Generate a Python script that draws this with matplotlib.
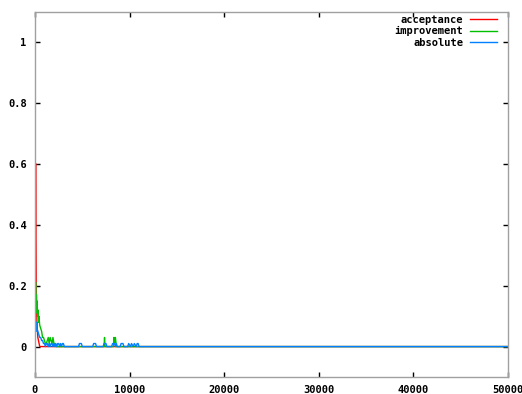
"""
Convergence rates (acceptance / improvement / absolute) over iterations,
drawn in the look of a gnuplot png terminal.
"""

import matplotlib
matplotlib.use("Agg")
import matplotlib.pyplot as plt

# ── Data ─────────────────────────────────────────────────────────────────────
acc_x = [100, 110, 130, 200, 300, 500, 50000]
acc_y = [0.60, 0.35, 0.20, 0.08, 0.03, 0.0, 0.0]

imp_x = [100, 110, 150, 200, 210, 300, 310, 400, 410, 500, 600, 700, 800, 900,
         1000, 1100, 1200, 1300, 1400, 1500, 1600, 1700, 1800, 1900, 2000, 2100,
         2200, 2400, 7300, 7350, 7400, 7450, 8300, 8350, 8400, 8500, 8600, 8650,
         50000]
imp_y = [0.21, 0.12, 0.17, 0.11, 0.15, 0.10, 0.12, 0.08, 0.10, 0.07, 0.06, 0.05,
         0.03, 0.03, 0.02, 0.01, 0.01, 0.02, 0.03, 0.01, 0.03, 0.02, 0.01,
         0.03, 0.01, 0.01, 0.0, 0.0, 0.0, 0.03, 0.0, 0.0, 0.0, 0.03, 0.01, 0.03,
         0.0, 0.0, 0.0]

abs_x = [100, 110, 200, 210, 300, 400, 500, 600, 700, 800, 900, 1000, 1100,
         1200, 1300, 1400, 1500, 1600, 1700, 1800, 1900, 2000, 2100, 2200, 2300,
         2400, 2500, 2600, 2700, 2800, 2900, 3000, 3100, 3200,
         4600, 4700, 4900, 5000, 6100, 6200, 6400, 6500, 7200, 7300, 7500, 7600,
         8100, 8200, 8400, 8500, 8600, 8700, 9000, 9100, 9300, 9400,
         9800, 9900, 10100, 10200, 10400, 10500, 10700, 10800, 10900, 11000,
         50000]
abs_y = [0.08, 0.05, 0.08, 0.06, 0.05, 0.04, 0.03, 0.03, 0.02, 0.02, 0.01,
         0.01, 0.0, 0.01, 0.01, 0.0, 0.01, 0.0, 0.01, 0.01, 0.0, 0.01, 0.0,
         0.01, 0.0, 0.01, 0.01, 0.0, 0.01, 0.0, 0.01, 0.01, 0.0, 0.0,
         0.0, 0.01, 0.01, 0.0, 0.0, 0.01, 0.01, 0.0, 0.0, 0.01, 0.01, 0.0,
         0.0, 0.01, 0.01, 0.0, 0.01, 0.0, 0.0, 0.01, 0.01, 0.0,
         0.0, 0.01, 0.0, 0.01, 0.0, 0.01, 0.0, 0.01, 0.01, 0.0,
         0.0]

labels = ["acceptance", "improvement", "absolute"]
x_ticks = [0, 10000, 20000, 30000, 40000, 50000]
y_ticks = [0, 0.2, 0.4, 0.6, 0.8, 1.0]
y_tick_labels = ["0", "0.2", "0.4", "0.6", "0.8", "1"]

# ── Style ────────────────────────────────────────────────────────────────────
RED    = "#ff0000"
GREEN  = "#00c000"
BLUE   = "#0080ff"
BORDER = "#a0a0a0"
FONT = {"family": "DejaVu Sans Mono", "weight": "bold", "size": 7.5}

fig = plt.figure(figsize=(5.22, 3.94), dpi=100, facecolor="white")
ax = fig.add_axes([35 / 522, 17 / 394, 473 / 522, 365 / 394])

ax.plot(acc_x, acc_y, color=RED, linewidth=1, label=labels[0])
ax.plot(imp_x, imp_y, color=GREEN, linewidth=1, label=labels[1])
ax.plot(abs_x, abs_y, color=BLUE, linewidth=1, label=labels[2])

ax.set_xlim(0, 50000)
ax.set_ylim(-0.1, 1.1)
ax.set_xticks(x_ticks)
ax.set_xticklabels([str(t) for t in x_ticks], fontdict=FONT)
ax.set_yticks(y_ticks)
ax.set_yticklabels(y_tick_labels, fontdict=FONT)
ax.tick_params(direction="in", length=3.5, width=1, color="#000000",
               top=True, right=True, pad=6)

for spine in ax.spines.values():
    spine.set_edgecolor(BORDER)
    spine.set_linewidth(1)

leg = ax.legend(loc="upper right", frameon=False, markerfirst=False,
                prop={"family": "DejaVu Sans Mono", "weight": "bold", "size": 7.5},
                handlelength=2.6, handletextpad=0.65, labelspacing=0.12,
                borderpad=0.0, borderaxespad=0.0,
                bbox_to_anchor=((497 - 35) / 473, 1 - 3 / 365))
for t in leg.get_texts():
    t.set_ha("right")

fig.savefig("out.png", dpi=100, facecolor="white")
